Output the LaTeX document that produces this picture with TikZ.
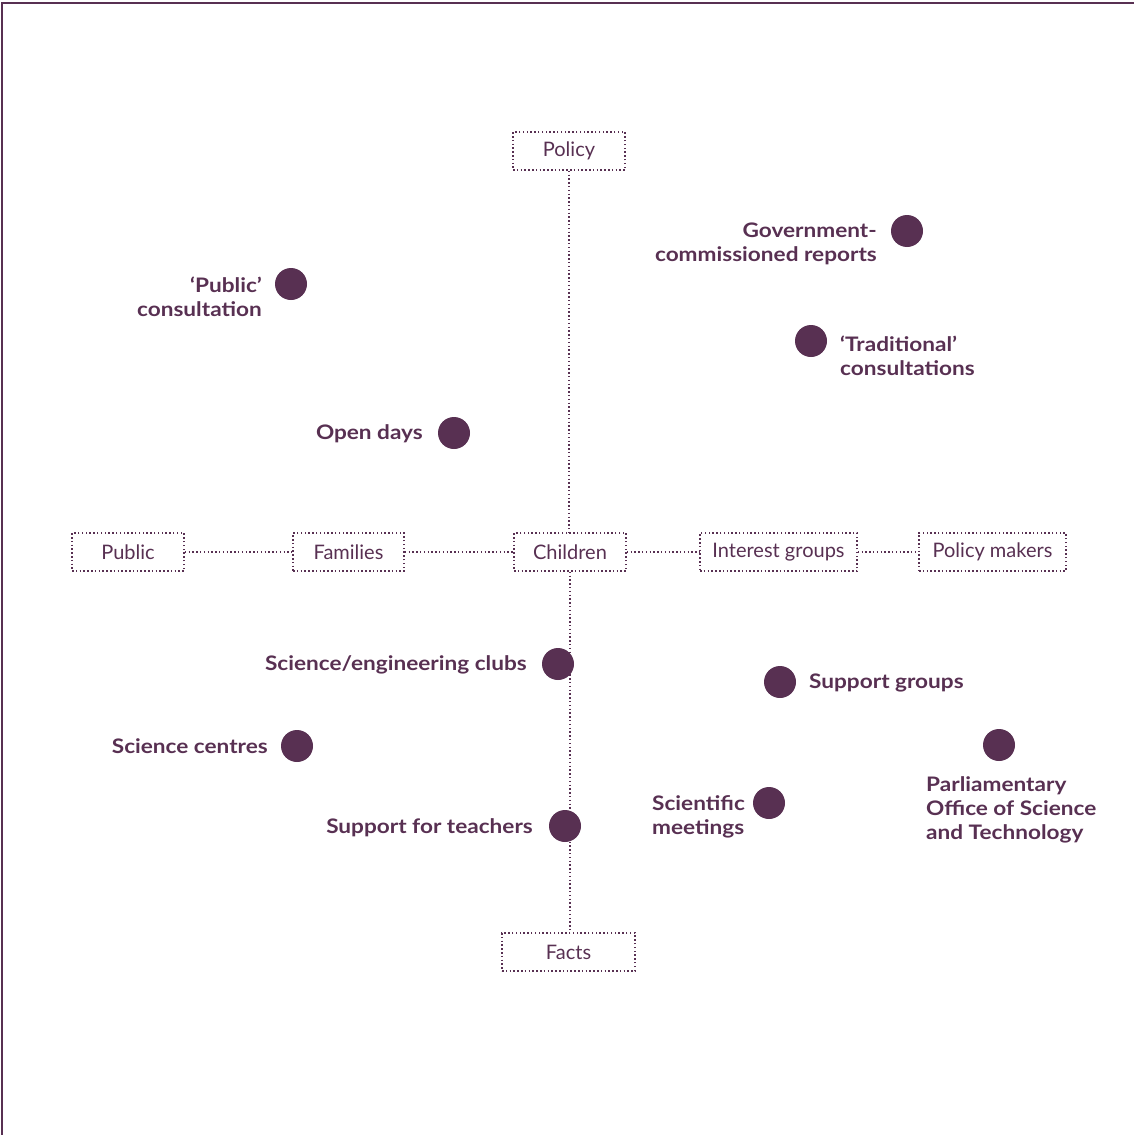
\documentclass[tikz,border=0pt]{standalone}
\usepackage{fontspec}
\setmainfont{Lato}
\newfontfamily\lblfont{Lato}[FakeStretch=1.13]
\definecolor{plum}{RGB}{88,48,82}
\begin{document}
\begin{tikzpicture}[x=1pt,y=-1pt,
  box/.style={draw=plum,line width=1.5pt,dash pattern=on 1.5pt off 2.3pt,text=plum,minimum height=38pt,inner sep=0pt,font=\fontsize{20}{23}\selectfont},
  link/.style={draw=plum,line width=1.5pt,dash pattern=on 1.5pt off 2.3pt},
  dot/.style={circle,fill=plum,minimum size=32pt,inner sep=0pt},
  lbl/.style={text=plum,inner sep=0pt,font=\lblfont\fontsize{20}{24}\selectfont\bfseries}]
\useasboundingbox (0,0) rectangle (1134,1135);
\draw[plum,line width=1.6pt] (2,1136) -- (2,3) -- (1135,3);
% boxes
\node[box,minimum width=112pt] (policy) at (569,151) {Policy};
\node[box,minimum width=112pt] (public) at (128,552) {Public};
\node[box,minimum width=111pt] (families) at (348.5,552) {Families};
\node[box,minimum width=112pt] (children) at (570,552) {Children};
\node[box,minimum width=157pt] (interest) at (778.5,552) {Interest groups};
\node[box,minimum width=147pt] (makers) at (992.5,552) {Policy makers};
\node[box,minimum width=133pt] (facts) at (568.5,952) {Facts};
% links
\draw[link] (policy.south) -- (policy.south |- children.north);
\draw[link] (children.south) -- (children.south |- facts.north);
\draw[link] (public) -- (families);
\draw[link] (families) -- (children);
\draw[link] (children) -- (interest);
\draw[link] (interest) -- (makers);
% dots
\node[dot] (gov) at (907,231) {};
\node[dot] (pubc) at (291,284) {};
\node[dot] (trad) at (811,341) {};
\node[dot] (open) at (454,433) {};
\node[dot] (clubs) at (558,664) {};
\node[dot] (supg) at (780,682) {};
\node[dot] (centres) at (297,746) {};
\node[dot] (post) at (999,745) {};
\node[dot] (meet) at (769,803) {};
\node[dot] (teach) at (565,826) {};
% labels
\node[lbl,anchor=east,align=right] (govl) at (877,244) {Government-\\commissioned reports};
\node[lbl,anchor=east,align=right] (pubcl) at (262,297) {‘Public’\\consultation};
\node[lbl,anchor=west,align=left] (tradl) at (840,356) {‘Traditional’\\consultations};
\node[lbl,anchor=east] (openl) at (423,434) {Open days};
\node[lbl,anchor=east] (clubsl) at (527,665) {Science/engineering clubs};
\node[lbl,anchor=west] (supgl) at (809,683) {Support groups};
\node[lbl,anchor=east] (centresl) at (268,746) {Science centres};
\node[lbl,anchor=west,align=left] (postl) at (926,810) {Parliamentary\\Office of Science\\and Technology};
\node[lbl,anchor=west,align=left] (meetl) at (652,817) {Scientific\\meetings};
\node[lbl,anchor=east] (teachl) at (533,828) {Support for teachers};
\end{tikzpicture}
\end{document}
